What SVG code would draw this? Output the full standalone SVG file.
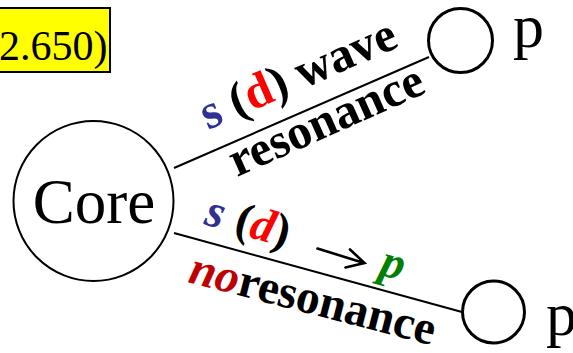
<svg xmlns="http://www.w3.org/2000/svg" width="573" height="353" viewBox="0 0 573 353">
<style>
.serif{font-family:"Liberation Serif","Times New Roman",serif}
.lbl{font-family:"Liberation Serif","Times New Roman",serif;font-weight:bold;fill:#000}
.blue{fill:#2e3192}
.red{fill:#ff0000}
.dred{fill:#c00000}
.green{fill:#008000}
.it{font-style:italic}
.node{fill:#fff;stroke:#000}
.edge{stroke:#000;stroke-width:2;fill:none}
.arrow{stroke:#000;stroke-width:2.6;fill:none;stroke-linecap:round;stroke-linejoin:miter}
</style>
<rect width="573" height="353" fill="#fff"/>
<g id="note">
<rect x="-5" y="8" width="115" height="64" fill="#ffff00" stroke="#000" stroke-width="2"/>
<text class="serif" x="-1" y="60" font-size="42">2.650)</text>
</g>
<g id="connectors">
<line class="edge" x1="174" y1="168" x2="429" y2="57"/>
<line class="edge" x1="174" y1="233" x2="462" y2="312"/>
</g>
<g id="core">
<circle class="node" cx="93.5" cy="201" r="80" stroke-width="2"/>
<text class="serif" x="94" y="223" font-size="63" text-anchor="middle">Core</text>
</g>
<g id="p-top">
<circle class="node" cx="460.5" cy="40.5" r="32" stroke-width="3"/>
<text class="serif" x="513" y="47" font-size="62">p</text>
</g>
<g id="p-bottom">
<circle class="node" cx="493.5" cy="312" r="31" stroke-width="3"/>
<text class="serif" x="546" y="335" font-size="62">p</text>
</g>
<g id="labels">
<text class="lbl" font-size="49" transform="translate(208,130) rotate(-23.5)"><tspan class="blue">s</tspan> (<tspan class="red">d</tspan>) wave</text>
<text class="lbl" font-size="49" transform="translate(237,177) rotate(-24)">resonance</text>
<text class="lbl" font-size="47" transform="translate(203,224) rotate(16)"><tspan class="blue it" x="0">s</tspan><tspan x="31">(</tspan><tspan class="red it">d</tspan><tspan>)</tspan><tspan class="green it" x="182">p</tspan></text>
<path class="arrow" d="M317.5,248.5 L364,263 M350,249.5 L364.5,263 L345.5,267.5"/>
<text class="lbl" font-size="47.5" transform="translate(187,282) rotate(14.5)"><tspan class="dred it">no</tspan>resonance</text>
</g>
</svg>
